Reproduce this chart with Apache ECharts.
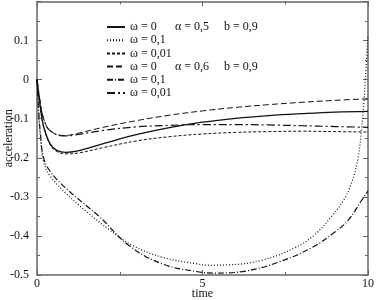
<!DOCTYPE html>
<html><head><meta charset="utf-8">
<script src="https://cdn.jsdelivr.net/npm/echarts@6/dist/echarts.min.js"></script>
<style>html,body{margin:0;padding:0;background:#fff}#c{width:376px;height:300px}</style>
</head><body><div id="c"></div>
<script>
// series 1: ω=0, α=0,5, b=0,9 (solid)
const t1 = [0,0.1,0.2,0.4,0.6,0.87,1.2,1.6,2.2,3.1,4,5,6,7,8,9,10];
const v1 = [0,-0.07,-0.12,-0.165,-0.181,-0.186,-0.183,-0.174,-0.159,-0.139,-0.123,-0.109,-0.099,-0.092,-0.087,-0.083,-0.081];
// series 2: ω=0,1 (dotted)
const t2 = [0,0.05,0.1,0.2,0.4,0.9,1.5,2.2,2.9,3.8,4.8,5.2,5.8,6.8,7.8,8.4,8.9,9.25,9.5,9.7,9.8,9.88,9.94,10];
const v2 = [0,-0.085,-0.145,-0.21,-0.247,-0.293,-0.338,-0.385,-0.425,-0.455,-0.471,-0.475,-0.474,-0.462,-0.43,-0.396,-0.35,-0.31,-0.265,-0.2,-0.13,-0.05,0.03,0.115];
// series 3: ω=0,01 (short dash)
const t3 = [0,0.1,0.2,0.4,0.6,0.9,1.3,2,3,4,5,6,7,8,9,10];
const v3 = [0,-0.07,-0.12,-0.167,-0.184,-0.19,-0.187,-0.174,-0.157,-0.146,-0.139,-0.135,-0.133,-0.132,-0.133,-0.134];
// series 4: ω=0, α=0,6, b=0,9 (long dash)
const t4 = [0,0.1,0.2,0.4,0.82,1.2,2,3,4,5,6,7,8,9,10];
const v4 = [0,-0.06,-0.1,-0.131,-0.143,-0.138,-0.122,-0.105,-0.091,-0.08,-0.071,-0.064,-0.058,-0.053,-0.049];
// series 5: ω=0,1 (dash-dot, deep)
const t5 = [0,0.05,0.1,0.2,0.4,0.9,1.9,2.8,3.8,4.8,5.4,6.3,7.3,8.3,9,9.4,9.8,10];
const v5 = [0,-0.08,-0.135,-0.2,-0.235,-0.28,-0.352,-0.426,-0.472,-0.491,-0.495,-0.49,-0.467,-0.43,-0.39,-0.36,-0.31,-0.285];
// series 6: ω=0,01 (dash-dot, upper)
const t6 = [0,0.1,0.2,0.4,0.85,1.2,2,3,4,5,6,7,8,9,10];
const v6 = [0,-0.06,-0.1,-0.131,-0.144,-0.141,-0.13,-0.121,-0.117,-0.115,-0.115,-0.116,-0.118,-0.12,-0.122];

const names = ['n1','n2','n3','n4','n5','n6'];
const labels = [['ω = 0','α = 0,5','b = 0,9'],['ω = 0,1'],['ω = 0,01'],['ω = 0','α = 0,6','b = 0,9'],['ω = 0,1'],['ω = 0,01']];
const xTicks = [0,5,10];
const yTicks = [-0.5,-0.4,-0.3,-0.2,-0.1,0,0.1];

const dashes = ['solid',[1,2],[3,2],[6,3],[6,2,1,2],[8,3,2,3]];
const widths = [1.3,1.2,1,1,1.2,1.2];
const T = [t1,t2,t3,t4,t5,t6], V = [v1,v2,v3,v4,v5,v6];
const font = 'Liberation Serif';
const axCol = '#666';

const series = names.map((n,i)=>({
  name:n, type:'line', symbol:'none', showSymbol:false, smooth:0.4,
  data: T[i].map((t,j)=>[t,V[i][j]]),
  lineStyle:{color:'#111', width:widths[i], type:dashes[i]},
  itemStyle:{color:'#111'}
}));

const baseX = {
  type:'value', min:0, max:10, interval:5,
  axisLine:{show:true,onZero:false,lineStyle:{color:axCol,width:1.5}},
  axisTick:{show:true,inside:true,length:5,lineStyle:{color:axCol}},
  minorTick:{show:true,splitNumber:2,length:3,lineStyle:{color:axCol}},
  splitLine:{show:false}
};
const baseY = {
  type:'value', min:-0.5, max:0.2, interval:0.1,
  axisLine:{show:true,onZero:false,lineStyle:{color:axCol,width:1.5}},
  axisTick:{show:true,inside:true,length:5,lineStyle:{color:axCol}},
  minorTick:{show:true,splitNumber:2,length:3,lineStyle:{color:axCol}},
  splitLine:{show:false}
};

const chart = echarts.init(document.getElementById('c'),null,{renderer:'canvas'});
chart.setOption({
  animation:false,
  backgroundColor:'#fff',
  grid:{left:37,right:8,top:1.5,bottom:25,containLabel:false,outerBoundsMode:'none'},
  legend:{
    data:names, orient:'vertical', left:106, top:21, padding:0,
    itemWidth:18, itemHeight:10, itemGap:1.2,
    itemStyle:{opacity:0},
    textStyle:{fontFamily:font,fontSize:12,color:'#111',lineHeight:12,
      rich:{a:{width:45,fontFamily:font,fontSize:12,color:'#111'},b:{width:49,fontFamily:font,fontSize:12,color:'#111'},c:{fontFamily:font,fontSize:12,color:'#111'}}},
    formatter:(n)=>{const L=labels[names.indexOf(n)]; return L.length===1?'{a|'+L[0]+'}':'{a|'+L[0]+'}{b|'+L[1]+'}{c|'+L[2]+'}';}
  },
  xAxis:[
    Object.assign({},baseX,{position:'bottom',name:'time',nameLocation:'middle',nameGap:13,nameMoveOverlap:false,
      nameTextStyle:{fontFamily:font,fontSize:12,color:'#111'},
      axisLabel:{show:true,margin:3,fontFamily:font,fontSize:12,color:'#111',
        formatter:(v)=>xTicks.includes(v)?String(v):''}}),
    Object.assign({},baseX,{position:'top',axisLabel:{show:false}})
  ],
  yAxis:[
    Object.assign({},baseY,{position:'left',name:'acceleration',nameLocation:'middle',nameGap:22,nameMoveOverlap:false,
      nameTextStyle:{fontFamily:font,fontSize:12,color:'#111'},
      axisLabel:{show:true,margin:8,fontFamily:font,fontSize:12,color:'#111',
        formatter:(v)=>{const r=Math.round(v*10)/10; return yTicks.includes(r)?String(r):'';}}}),
    Object.assign({},baseY,{position:'right',axisLabel:{show:false}})
  ],
  series
});
</script></body></html>
